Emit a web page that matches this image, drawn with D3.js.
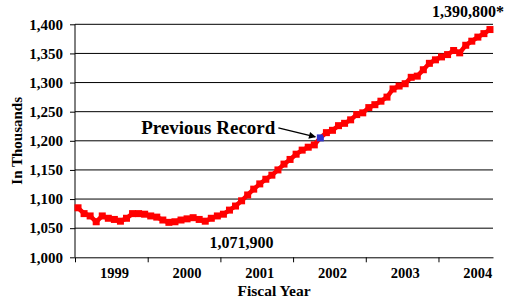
<!DOCTYPE html>
<html lang="en">
<head>
<meta charset="UTF-8">
<title>In Thousands by Fiscal Year</title>
<script src="https://d3js.org/d3.v7.min.js"></script>
<style>
  body { margin: 0; background: #fff; }
  text { font-family: "Liberation Serif", "Times New Roman", serif; font-weight: bold; fill: #000; }
</style>
</head>
<body>
<svg width="516" height="304"></svg>
<script>
// fiscal years shown on the axis and how many months each one has on the chart
var fiscalYears = ["1999", "2000", "2001", "2002", "2003", "2004"];
var monthsInYear = [12, 12, 12, 12, 12, 9];

// monthly values, in thousands (Oct 1998 .. Jun 2004)
var values = [
  1085, 1075, 1071, 1061, 1071, 1067, 1065, 1062, 1067, 1075, 1075, 1074,
  1071, 1069, 1064, 1060, 1061, 1064, 1066, 1068, 1065, 1062, 1067, 1071,
  1074, 1081, 1088, 1097, 1107, 1117, 1126, 1134, 1141, 1150, 1160, 1168,
  1177, 1184, 1189, 1193, 1205, 1214, 1218, 1226, 1230, 1236, 1245, 1248,
  1257, 1262, 1268, 1275, 1289, 1294, 1298, 1309, 1311, 1322, 1333, 1339,
  1344, 1348, 1355, 1351, 1364, 1371, 1378, 1384, 1391
];
var recordIndex = 40;   // month drawn in blue
var yTicks = [1000, 1050, 1100, 1150, 1200, 1250, 1300, 1350, 1400];

var margin = {top: 24.3, left: 75};
var width = 418, height = 233;

var svg = d3.select("svg");
var g = svg.append("g")
    .attr("transform", "translate(" + margin.left + "," + margin.top + ")");

var nMonths = d3.sum(monthsInYear);
var x = d3.scaleLinear().domain([0, nMonths]).range([0, width]);
var y = d3.scaleLinear().domain([1000, 1400]).range([height, 0]);

// start month of each fiscal year
var yearStarts = [];
var acc = 0;
monthsInYear.forEach(function(m) { yearStarts.push(acc); acc += m; });

// gridlines
g.selectAll(".grid")
    .data(yTicks.slice(1))
    .enter().append("line")
    .attr("x1", 0).attr("x2", width)
    .attr("y1", function(d) { return y(d); })
    .attr("y2", function(d) { return y(d); })
    .attr("stroke", "#000").attr("stroke-width", 1);

// y axis
var yAxis = g.append("g")
    .call(d3.axisLeft(y).tickValues(yTicks).tickFormat(d3.format(",")).tickSize(5).tickPadding(7));
yAxis.select(".domain").attr("stroke", "#000").attr("d", "M0," + y(1400) + "V" + height);
yAxis.selectAll("text").attr("font-size", "15px").attr("font-family", "Liberation Serif").attr("font-weight", "bold");

// x axis (ticks at the start of each fiscal year)
var xAxis = g.append("g")
    .attr("transform", "translate(0," + height + ")")
    .call(d3.axisBottom(x).tickValues(yearStarts).tickFormat("").tickSize(5).tickSizeOuter(0));
xAxis.select(".domain").attr("stroke", "#000");

// year labels
g.selectAll(".year")
    .data(fiscalYears)
    .enter().append("text")
    .attr("x", function(d, i) { return x(yearStarts[i] + 6.5); })
    .attr("y", height + 21)
    .attr("text-anchor", "middle")
    .attr("font-size", "14.5px")
    .text(function(d) { return d; });

// axis titles
svg.append("text")
    .attr("x", 274).attr("y", 296)
    .attr("text-anchor", "middle")
    .attr("font-size", "15.5px")
    .text("Fiscal Year");

svg.append("text")
    .attr("transform", "translate(22," + (margin.top + height / 2) + ") rotate(-90)")
    .attr("text-anchor", "middle")
    .attr("font-size", "15px")
    .text("In Thousands");

// line and markers
var line = d3.line()
    .x(function(d, i) { return x(i + 0.5); })
    .y(function(d) { return y(d); });

g.append("path")
    .datum(values)
    .attr("fill", "none")
    .attr("stroke", "#ff0000")
    .attr("stroke-width", 4.5)
    .attr("d", line);

var ms = 7;
g.selectAll(".pt")
    .data(values)
    .enter().append("rect")
    .attr("x", function(d, i) { return x(i + 0.5) - ms / 2; })
    .attr("y", function(d) { return y(d) - ms / 2; })
    .attr("width", ms).attr("height", ms)
    .attr("fill", function(d, i) { return i === recordIndex ? "#3333cc" : "#ff0000"; });

// annotations
var last = values.length - 1;
g.append("text")
    .attr("x", x(last + 0.5) + 14)
    .attr("y", y(1400) - 7)
    .attr("text-anchor", "end")
    .attr("font-size", "16px")
    .text("1,390,800*");

g.append("text")
    .attr("x", x(27.5))
    .attr("y", height - 9)
    .attr("text-anchor", "middle")
    .attr("font-size", "16px")
    .text("1,071,900");

var rx = x(recordIndex + 0.5), ry = y(values[recordIndex]);
svg.append("defs").append("marker")
    .attr("id", "arrow")
    .attr("viewBox", "0 0 10 10")
    .attr("refX", 9).attr("refY", 5)
    .attr("markerWidth", 9).attr("markerHeight", 7)
    .attr("markerUnits", "userSpaceOnUse")
    .attr("orient", "auto")
    .append("path").attr("d", "M0,0L10,5L0,10z").attr("fill", "#000");

g.append("line")
    .attr("x1", rx - 42).attr("y1", ry - 10)
    .attr("x2", rx - 5).attr("y2", ry - 1)
    .attr("stroke", "#000").attr("stroke-width", 1.5)
    .attr("marker-end", "url(#arrow)");

g.append("text")
    .attr("x", rx - 45)
    .attr("y", ry - 4)
    .attr("text-anchor", "end")
    .attr("font-size", "19px")
    .text("Previous Record");
</script>
</body>
</html>
